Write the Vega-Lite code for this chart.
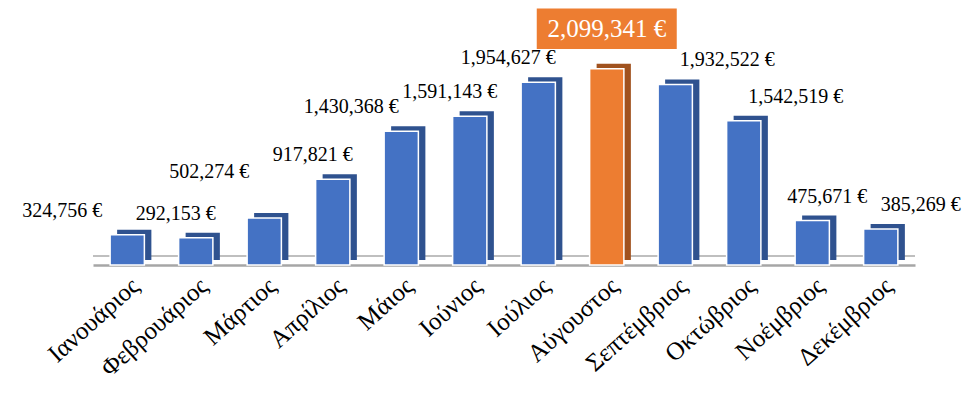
{
  "$schema": "https://vega.github.io/schema/vega-lite/v6.json",
  "width": 822,
  "height": 243,
  "autosize": "none",
  "padding": {"left": 93, "top": 22, "right": 65, "bottom": 155},
  "background": "white",
  "config": {"view": {"stroke": null}, "font": "Liberation Serif"},
  "data": {"values": [
    {"month": "Ιανουάριος", "value": 324756},
    {"month": "Φεβρουάριος", "value": 292153},
    {"month": "Μάρτιος", "value": 502274},
    {"month": "Απρίλιος", "value": 917821},
    {"month": "Μάιος", "value": 1430368},
    {"month": "Ιούνιος", "value": 1591143},
    {"month": "Ιούλιος", "value": 1954627},
    {"month": "Αύγουστος", "value": 2099341},
    {"month": "Σεπτέμβριος", "value": 1932522},
    {"month": "Οκτώβριος", "value": 1542519},
    {"month": "Νοέμβριος", "value": 475671},
    {"month": "Δεκέμβριος", "value": 385269}
  ]},
  "transform": [
    {"calculate": "format(datum.value, ',') + ' €'", "as": "label"},
    {"calculate": "datum.month === 'Αύγουστος' ? 'max' : 'other'", "as": "kind"}
  ],
  "encoding": {
    "x": {"field": "month", "type": "nominal", "sort": null,
      "scale": {"paddingInner": 0.5, "paddingOuter": 0.25},
      "axis": {"title": null, "labelAngle": -42, "labelFontSize": 25, "labelColor": "#000000",
        "labelFont": "Liberation Serif", "ticks": false, "domainColor": "#A6A6A6", "domainWidth": 2.5, "labelPadding": 8}},
    "y": {"field": "value", "type": "quantitative", "scale": {"domain": [0, 2600000]}, "axis": null}
  },
  "layer": [
    {"mark": {"type": "rule", "color": "#BFBFBF", "strokeWidth": 1.5, "yOffset": -9},
      "encoding": {"y": {"datum": 0}, "x": null}},
    {"mark": {"type": "bar", "xOffset": 7, "yOffset": -5},
      "encoding": {"color": {"condition": {"test": "datum.kind === 'max'", "value": "#A0521E"}, "value": "#2F528F"}}},
    {"mark": {"type": "bar", "stroke": "white", "strokeWidth": 1.5},
      "encoding": {"color": {"condition": {"test": "datum.kind === 'max'", "value": "#ED7D31"}, "value": "#4472C4"}}},
    {"transform": [{"filter": {"field": "month", "oneOf": ["Φεβρουάριος"]}}],
      "mark": {"type": "text", "dy": -24, "dx": -20, "fontSize": 20, "font": "Liberation Serif", "color": "#000000"},
      "encoding": {"text": {"field": "label"}}},
    {"transform": [{"filter": {"field": "month", "oneOf": ["Ιανουάριος"]}}],
      "mark": {"type": "text", "dy": -24, "dx": -65, "fontSize": 20, "font": "Liberation Serif", "color": "#000000"},
      "encoding": {"text": {"field": "label"}}},
    {"transform": [{"filter": {"field": "month", "oneOf": ["Μάρτιος"]}}],
      "mark": {"type": "text", "dy": -46, "dx": -55, "fontSize": 20, "font": "Liberation Serif", "color": "#000000"},
      "encoding": {"text": {"field": "label"}}},
    {"transform": [{"filter": {"field": "month", "oneOf": ["Απρίλιος", "Ιούνιος"]}}],
      "mark": {"type": "text", "dy": -24, "dx": -20, "fontSize": 20, "font": "Liberation Serif", "color": "#000000"},
      "encoding": {"text": {"field": "label"}}},
    {"transform": [{"filter": {"field": "month", "oneOf": ["Μάιος"]}}],
      "mark": {"type": "text", "dy": -24, "dx": -50, "fontSize": 20, "font": "Liberation Serif", "color": "#000000"},
      "encoding": {"text": {"field": "label"}}},
    {"transform": [{"filter": {"field": "month", "oneOf": ["Ιούλιος"]}}],
      "mark": {"type": "text", "dy": -24, "dx": -30, "fontSize": 20, "font": "Liberation Serif", "color": "#000000"},
      "encoding": {"text": {"field": "label"}}},
    {"transform": [{"filter": {"field": "month", "oneOf": ["Σεπτέμβριος", "Οκτώβριος"]}}],
      "mark": {"type": "text", "dy": -24, "dx": 52, "fontSize": 20, "font": "Liberation Serif", "color": "#000000"},
      "encoding": {"text": {"field": "label"}}},
    {"transform": [{"filter": {"field": "month", "oneOf": ["Νοέμβριος"]}}],
      "mark": {"type": "text", "dy": -24, "dx": 15, "fontSize": 20, "font": "Liberation Serif", "color": "#000000"},
      "encoding": {"text": {"field": "label"}}},
    {"transform": [{"filter": {"field": "month", "oneOf": ["Δεκέμβριος"]}}],
      "mark": {"type": "text", "dy": -24, "dx": 40, "fontSize": 20, "font": "Liberation Serif", "color": "#000000"},
      "encoding": {"text": {"field": "label"}}},
    {"transform": [{"filter": "datum.kind === 'max'"}],
      "mark": {"type": "point", "shape": "M-1,-0.29H1V0.29H-1Z", "filled": true, "opacity": 1, "color": "#ED7D31", "size": 19600, "yOffset": -40},
      "encoding": {}},
    {"transform": [{"filter": "datum.kind === 'max'"}],
      "mark": {"type": "text", "dy": -40, "fontSize": 25, "font": "Liberation Serif", "color": "white"},
      "encoding": {"text": {"field": "label"}}}
  ]
}
